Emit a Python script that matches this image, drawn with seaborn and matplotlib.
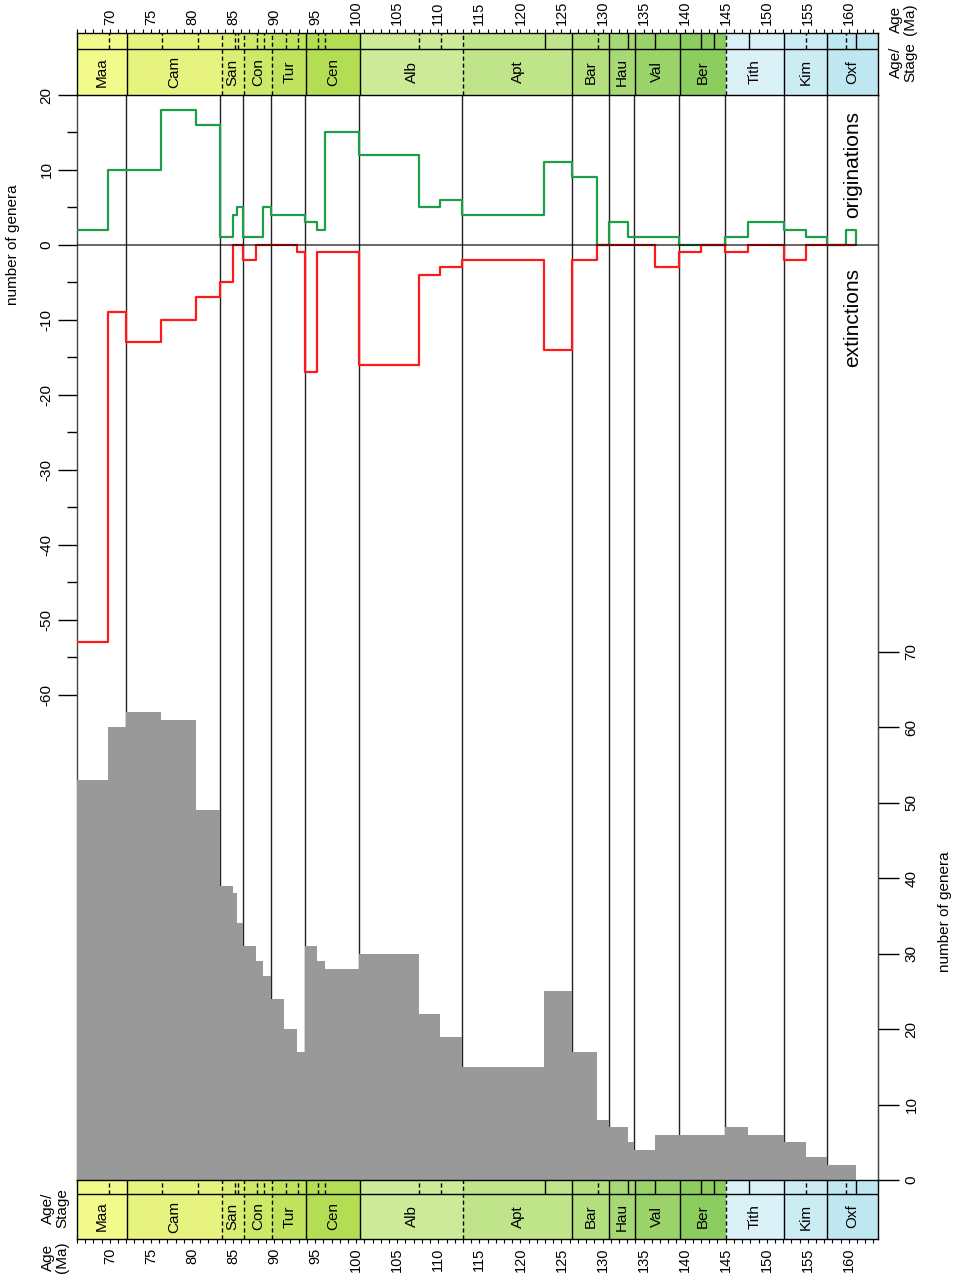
import numpy as np
import pandas as pd
import matplotlib
matplotlib.use("Agg")
import matplotlib.pyplot as plt
import seaborn as sns

# ---------------- data ----------------
bin_edges = [66.0, 69.9, 72.1, 76.4, 80.7, 83.6, 85.2, 85.6, 86.3, 87.9, 88.8, 89.8,
             91.4, 92.9, 93.9, 95.4, 96.3, 100.5, 107.7, 110.3, 113.0, 123.0, 126.3,
             129.4, 130.8, 133.1, 133.9, 136.4, 139.4, 142.0, 143.6, 145.0, 147.8,
             152.1, 154.8, 157.3, 159.7, 160.9]
originations = [2, 10, 10, 18, 16, 1, 4, 5, 1, 1, 5, 4, 4, 4, 3, 2, 15, 12, 5, 6,
                4, 11, 9, 0, 3, 1, 1, 1, 0, 0, 0, 1, 3, 2, 1, 0, 2]
extinctions = [-53, -9, -13, -10, -7, -5, 0, 0, -2, 0, 0, 0, 0, -1, -17, -1, -1, -16,
               -4, -3, -2, -14, -2, 0, 0, 0, 0, -3, -1, 0, 0, -1, 0, -2, 0, 0, 0]
diversity = [53, 60, 62, 61, 49, 39, 38, 34, 31, 29, 27, 24, 20, 17, 31, 29, 28, 30,
             22, 19, 15, 25, 17, 8, 7, 5, 4, 6, 6, 6, 6, 7, 6, 5, 3, 2, 2]

stage_names = ["Maa", "Cam", "San", "Con", "Tur", "Cen", "Alb", "Apt", "Bar", "Hau",
               "Val", "Ber", "Tith", "Kim", "Oxf"]
stage_tops = [66.0, 72.1, 83.6, 86.3, 89.8, 93.9, 100.5, 113.0, 126.3, 130.8, 133.9,
              139.4, 145.0, 152.1, 157.3]
stage_bases = [72.1, 83.6, 86.3, 89.8, 93.9, 100.5, 113.0, 126.3, 130.8, 133.9, 139.4,
               145.0, 152.1, 157.3, 163.5]
stage_colors = ["#F2FA8C", "#E6F47F", "#D9EF74", "#CCE968", "#BFE35D", "#B3DE53",
                "#CCEA97", "#BFE48A", "#B3DF7F", "#A6D975", "#99D36A", "#8CCD60",
                "#D9F1F7", "#CCECF4", "#BFE7F1"]
boundary_dashed = [False, True, True, True, False, False, True, False, False, False,
                   False, True, False, False]
substage_ages = [69.9, 76.4, 80.7, 85.2, 85.6, 87.9, 88.8, 91.4, 92.9, 95.4, 96.2,
                 107.6, 110.3, 123.0, 129.4, 133.1, 136.4, 142.0, 143.6, 147.8, 154.8,
                 159.7, 160.9]
substage_dashed = [True, True, True, True, True, True, True, True, True, True, True,
                   True, True, False, True, False, False, False, False, False, True,
                   True, False]

age_ticks = list(range(70, 161, 5))
flux_ticks = list(range(-60, 21, 10))
flux_minor = list(range(-55, 16, 10))
div_ticks = list(range(0, 71, 10))

# ---------------- style ----------------
sns.set_style("ticks")
plt.rcParams["font.family"] = ["Liberation Sans", "DejaVu Sans"]
plt.rcParams["text.color"] = "black"
plt.rcParams["axes.labelcolor"] = "black"
plt.rcParams["xtick.color"] = "black"
plt.rcParams["ytick.color"] = "black"
plt.rcParams["axes.unicode_minus"] = False

W, H = 954, 1275
fig = plt.figure(figsize=(W / 100, H / 100), dpi=100)

def fr(x0, y0, x1, y1):
    return [x0 / W, 1 - y1 / H, (x1 - x0) / W, (y1 - y0) / H]

XL = (66.18, 163.55)

ax = fig.add_axes(fr(77, 95, 878, 1180))
ax.set_xlim(*XL)
ax.set_ylim(-124.7, 20)

# stage boundary lines
for b in stage_bases[:-1]:
    ax.axvline(b, color="#222222", lw=1.0, zorder=1)

df_o = pd.DataFrame({"age": bin_edges, "n": originations + [0]})
df_e = pd.DataFrame({"age": bin_edges, "n": extinctions + [0]})
sns.lineplot(data=df_o, x="age", y="n", ax=ax, estimator=None, sort=False,
             drawstyle="steps-post", color="#1E9E49", linewidth=1.6, zorder=3)
sns.lineplot(data=df_e, x="age", y="n", ax=ax, estimator=None, sort=False,
             drawstyle="steps-post", color="#FF1A1A", linewidth=1.6, zorder=3)
ax.axhline(0, color="black", lw=1.4, alpha=0.6, zorder=4)

ax.set_xlabel("")
ax.set_ylabel("")
ax.set_xticks([])
ax.set_yticks(flux_ticks)
ax.set_yticks(flux_minor, minor=True)
ax.tick_params(axis="y", which="major", length=14, width=1, pad=3, labelsize=11,
               labelrotation=90)
ax.tick_params(axis="y", which="minor", length=7, width=1)
for lab in ax.get_yticklabels():
    lab.set_va("center")
for s in ["left", "right"]:
    ax.spines[s].set_color("#444444")
    ax.spines[s].set_linewidth(1)
ax.spines["top"].set_visible(False)
ax.spines["bottom"].set_visible(False)

ax.text(160.5, 3.6, "originations", rotation=90, va="bottom", ha="center", fontsize=15)
ax.text(160.5, -3.1, "extinctions", rotation=90, va="top", ha="center", fontsize=15)

# diversity on twin axis
ax2 = ax.twinx()
sns.histplot(x=bin_edges[:-1], weights=diversity, bins=bin_edges, element="step",
             fill=True, color="#999999", alpha=1, linewidth=0, ax=ax2, zorder=2)
ax2.set_xlim(*XL)
ax2.set_ylim(0, 143.8)
ax2.set_ylabel("")
ax2.set_yticks(div_ticks)
ax2.tick_params(axis="y", which="major", length=15, width=1, pad=4, labelsize=11,
                labelrotation=90)
for lab in ax2.get_yticklabels():
    lab.set_va("center")
for s in ["left", "top", "bottom"]:
    ax2.spines[s].set_visible(False)
ax2.spines["right"].set_color("#444444")

# ---------------- stage bands ----------------
def draw_band(bax, sep, top):
    widths = np.subtract(stage_bases, stage_tops)
    bax.bar(stage_tops, [1] * len(stage_tops), width=widths, align="edge",
            color=stage_colors, linewidth=0)
    bax.set_xlim(*XL)
    bax.set_ylim(0, 1)
    bax.axhline(sep, color="black", lw=1)
    for b, d in zip(stage_bases[:-1], boundary_dashed):
        bax.axvline(b, color="black", lw=1, ls=(0, (3, 2)) if d else "-")
    for a, d in zip(substage_ages, substage_dashed):
        bax.axvline(a, ymin=sep, ymax=1, color="black", lw=1,
                    ls=(0, (3, 2)) if d else "-")
    for name, t, b in zip(stage_names, stage_tops, stage_bases):
        bax.text((t + b) / 2, sep / 2, name, rotation=90, ha="center", va="center",
                 fontsize=11)
    bax.set_yticks([])
    bax.set_xticks(age_ticks)
    bax.set_xticks(np.arange(66, 164, 1), minor=True)
    if top:
        bax.xaxis.tick_top()
        bax.tick_params(axis="x", which="both", top=True, bottom=False, length=3,
                        width=0.8, pad=3, labelsize=10.5, labelrotation=90)
    else:
        bax.tick_params(axis="x", which="both", top=False, bottom=True, length=3,
                        width=0.8, pad=3, labelsize=10.5, labelrotation=90)
    for s in bax.spines.values():
        s.set_color("black")
        s.set_linewidth(1)

tax = fig.add_axes(fr(77, 33, 878, 95))
draw_band(tax, 46 / 62, True)
bax = fig.add_axes(fr(77, 1180, 878, 1239))
draw_band(bax, 45 / 59, False)

# ---------------- labels ----------------
fig.text(13 / W, 1 - 245 / H, "number of genera", rotation=90, ha="center",
         va="center", fontsize=11)
fig.text(945 / W, 1 - 912 / H, "number of genera", rotation=90, ha="center",
         va="center", fontsize=11)
fig.text(903 / W, 1 - 19 / H, "Age\n(Ma)", rotation=90, ha="center", va="center",
         fontsize=11, linespacing=1.0)
fig.text(903 / W, 1 - 62 / H, "Age/\nStage", rotation=90, ha="center", va="center",
         fontsize=11, linespacing=1.0)
fig.text(55 / W, 1 - 1208 / H, "Age/\nStage", rotation=90, ha="center", va="center",
         fontsize=11, linespacing=1.0)
fig.text(55 / W, 1 - 1257 / H, "Age\n(Ma)", rotation=90, ha="center", va="center",
         fontsize=11, linespacing=1.0)

fig.savefig("out.png", dpi=100)
